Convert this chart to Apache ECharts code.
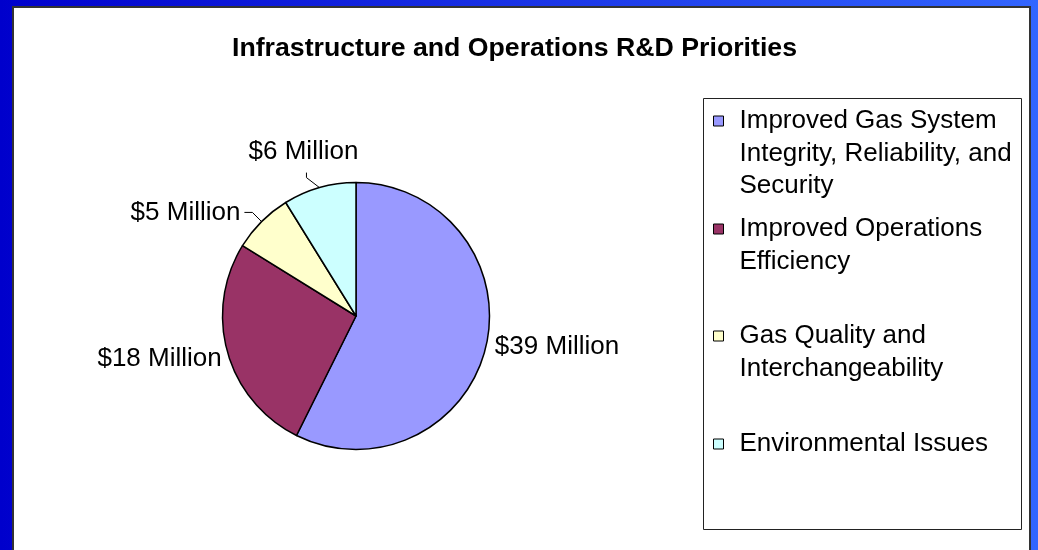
<!DOCTYPE html>
<html>
<head>
<meta charset="utf-8">
<script src="https://cdn.jsdelivr.net/npm/echarts@6/dist/echarts.min.js"></script>
<style>html,body{margin:0;padding:0;}#chart{width:1038px;height:550px;}</style>
</head>
<body>
<div id="chart"></div>
<script>
// ---- data ----
const title = 'Infrastructure and Operations R&D Priorities';
const categories = [
  'Improved Gas System Integrity, Reliability, and Security',
  'Improved Operations Efficiency',
  'Gas Quality and Interchangeability',
  'Environmental Issues'
];
const legendLines = [
  ['Improved Gas System', 'Integrity, Reliability, and', 'Security'],
  ['Improved Operations', 'Efficiency'],
  ['Gas Quality and', 'Interchangeability'],
  ['Environmental Issues']
];
const values = [39, 18, 5, 6]; // $ Million
const colors = ['#9999FF', '#993366', '#FFFFCC', '#CCFFFF'];

// ---- layout ----
const FONT = '"Liberation Sans", Arial, sans-serif';
const LH = 32.5;
const legendIconCenters = [121, 229, 336, 444];

const legends = categories.map((name, i) => {
  const k = legendLines[i].length;
  const h = (2 * k - 1) * LH;
  // blank lines in front keep the first text line level with the icon
  const txt = '\n'.repeat(k - 1) + legendLines[i].join('\n');
  return {
    data: [name],
    orient: 'vertical',
    left: 713,
    top: legendIconCenters[i] - h / 2,
    padding: 0,
    icon: 'rect',
    itemWidth: 10,
    itemHeight: 10,
    selectedMode: false,
    itemStyle: { borderColor: '#000', borderWidth: 1 },
    formatter: () => txt,
    textStyle: {
      fontFamily: FONT, fontSize: 26, color: '#000',
      lineHeight: LH, padding: [0, 0, 0, 11]
    }
  };
});

const chart = echarts.init(document.getElementById('chart'));
chart.setOption({
  animation: false,
  backgroundColor: {
    type: 'linear', x: 0, y: 0, x2: 1, y2: 0,
    colorStops: [{ offset: 0, color: '#0000CC' }, { offset: 1, color: '#3366FF' }]
  },
  graphic: [
    { type: 'rect', z: -10, shape: { x: 13, y: 7, width: 1017, height: 570 },
      style: { fill: '#fff', stroke: '#333', lineWidth: 2 } },
    { type: 'rect', z: -9, shape: { x: 703.5, y: 98.5, width: 318, height: 431 },
      style: { fill: '#fff', stroke: '#222', lineWidth: 1 } }
  ],
  title: {
    text: title, left: 227, top: 30,
    textStyle: { fontFamily: FONT, fontSize: 26.7, fontWeight: 'bold', color: '#000' }
  },
  legend: legends,
  series: [{
    type: 'pie',
    center: [356, 316],
    radius: 133.5,
    startAngle: 90,
    clockwise: true,
    silent: true,
    avoidLabelOverlap: false,
    itemStyle: { borderColor: '#000', borderWidth: 1.5 },
    label: {
      show: true, position: 'outside', fontFamily: FONT, fontSize: 26, color: '#000',
      distanceToLabelLine: 4,
      formatter: p => '$' + p.value + ' Million'
    },
    labelLine: { show: true, length: 3, length2: 2, lineStyle: { color: '#000', width: 1 } },
    labelLayout: function (p) {
      const pts = p.labelLinePoints;
      if (p.dataIndex === 3 && pts) {
        const p0 = pts[0];
        const mid = [p0[0] - 13, p0[1] - 10];
        const end = [mid[0], mid[1] - 5];
        return { x: end[0] - 3, y: end[1] - 8, align: 'center', verticalAlign: 'bottom',
                 labelLinePoints: [p0, mid, end] };
      }
      if (p.dataIndex === 1 && p.labelRect) {
        const r = p.labelRect;
        return { x: r.x + r.width + 3, y: r.y + r.height / 2 + 5,
                 align: 'right', verticalAlign: 'middle' };
      }
    },
    data: categories.map((name, i) => {
      const d = { name, value: values[i], itemStyle: { color: colors[i] } };
      if (i === 0 || i === 1) d.labelLine = { show: false, length: 3, length2: 2 };
      if (i === 2) d.labelLine = { show: true, length: 13, length2: 8 };
      if (i === 3) d.labelLine = { show: true, length: 30, length2: 4 };
      return d;
    })
  }]
});
</script>
</body>
</html>
